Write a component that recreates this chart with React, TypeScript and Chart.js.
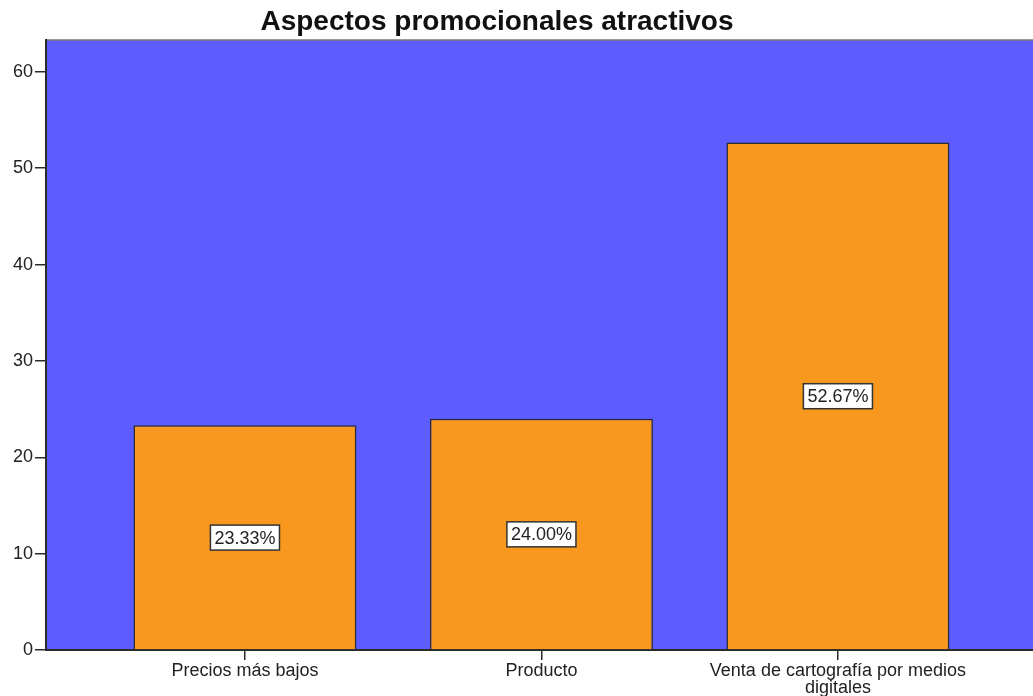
import React, { useEffect, useRef } from "react";
import { Chart, registerables } from "chart.js";

Chart.register(...registerables);

const chartTitle = "Aspectos promocionales atractivos";
const categoryLabels: string[][] = [
  ["Precios más bajos"],
  ["Producto"],
  ["Venta de cartografía por medios", "digitales"],
];
const percentages = [23.33, 24.0, 52.67];
const yTickValues = [0, 10, 20, 30, 40, 50, 60];

const FONT = '"Liberation Sans", Arial, Helvetica, sans-serif';
const BLUE = "#5C5CFF";
const ORANGE = "#F8981E";
const DARK = "#2b2b2b";

const backgroundPlugin = {
  id: "plotBackground",
  beforeDraw(chart: any) {
    const { ctx, chartArea } = chart;
    ctx.save();
    ctx.fillStyle = BLUE;
    ctx.fillRect(chartArea.left, chartArea.top, chartArea.right - chartArea.left, chartArea.bottom - chartArea.top);
    ctx.strokeStyle = "#777";
    ctx.lineWidth = 1.5;
    ctx.beginPath();
    ctx.moveTo(chartArea.left, chartArea.top);
    ctx.lineTo(chartArea.right, chartArea.top);
    ctx.stroke();
    ctx.restore();
  },
};

const titlePlugin = {
  id: "customTitle",
  afterDraw(chart: any) {
    const { ctx } = chart;
    ctx.save();
    ctx.font = `bold 28px ${FONT}`;
    ctx.fillStyle = "#111";
    ctx.textAlign = "center";
    ctx.textBaseline = "middle";
    ctx.fillText(chartTitle, 497, 22);
    ctx.restore();
  },
};

const valueLabelPlugin = {
  id: "valueLabels",
  afterDatasetsDraw(chart: any) {
    const { ctx } = chart;
    const meta = chart.getDatasetMeta(0);
    const yScale = chart.scales.y;
    ctx.save();
    ctx.font = `18px ${FONT}`;
    ctx.textAlign = "center";
    ctx.textBaseline = "middle";
    meta.data.forEach((bar: any, i: number) => {
      const v = percentages[i];
      const text = v.toFixed(2) + "%";
      const x = bar.x;
      const y = yScale.getPixelForValue(v / 2);
      const w = ctx.measureText(text).width + 8;
      const h = 25;
      ctx.fillStyle = "#ffffff";
      ctx.fillRect(x - w / 2, y - h / 2, w, h);
      ctx.strokeStyle = "#333";
      ctx.lineWidth = 1.5;
      ctx.strokeRect(x - w / 2, y - h / 2, w, h);
      ctx.fillStyle = "#222";
      ctx.fillText(text, x, y + 1);
    });
    ctx.restore();
  },
};

export default function App() {
  const canvasRef = useRef<HTMLCanvasElement | null>(null);

  useEffect(() => {
    if (!canvasRef.current) return;
    const chart = new Chart(canvasRef.current, {
      type: "bar",
      data: {
        datasets: [
          {
            data: percentages.map((v, i) => ({ x: i + 1, y: v })),
            backgroundColor: ORANGE,
            borderColor: DARK,
            borderWidth: 1.5,
            borderSkipped: "bottom",
            barPercentage: 0.752,
            categoryPercentage: 1,
          },
        ],
      },
      options: {
        animation: false,
        responsive: true,
        maintainAspectRatio: false,
        layout: { padding: { top: 40, left: 0, right: 0, bottom: 0 } },
        plugins: {
          legend: { display: false },
          title: { display: false },
          tooltip: { enabled: false },
        },
        scales: {
          x: {
            type: "linear",
            offset: false,
            min: 0.329,
            max: 3.658,
            afterBuildTicks: (scale: any) => {
              scale.ticks = categoryLabels.map((_, i) => ({ value: i + 1 }));
            },
            afterFit: (scale: any) => {
              scale.height = 46;
            },
            grid: {
              display: true,
              offset: false,
              drawOnChartArea: false,
              drawTicks: true,
              tickLength: 10,
              color: DARK,
              lineWidth: 1.5,
            },
            border: { display: true, color: DARK, width: 2 },
            ticks: {
              autoSkip: false,
              maxRotation: 0,
              minRotation: 0,
              padding: 2,
              color: "#222",
              font: { family: FONT, size: 18, lineHeight: 0.95 },
              callback: (value: any) => categoryLabels[Math.round(Number(value)) - 1] ?? "",
            },
          },
          y: {
            min: 0,
            max: 63.3,
            afterBuildTicks: (scale: any) => {
              scale.ticks = yTickValues.map((v) => ({ value: v }));
            },
            afterFit: (scale: any) => {
              scale.width = 46;
            },
            grid: {
              display: true,
              drawOnChartArea: false,
              drawTicks: true,
              tickLength: 11,
              color: DARK,
              lineWidth: 1.5,
            },
            border: { display: true, color: DARK, width: 2 },
            ticks: {
              padding: 2,
              color: "#222",
              font: { family: FONT, size: 18 },
            },
          },
        },
      },
      plugins: [backgroundPlugin, titlePlugin, valueLabelPlugin],
    });
    return () => chart.destroy();
  }, []);

  return (
    <div style={{ position: "fixed", left: 0, top: 0, width: 1033, height: 696, background: "#fff" }}>
      <canvas ref={canvasRef} />
    </div>
  );
}
